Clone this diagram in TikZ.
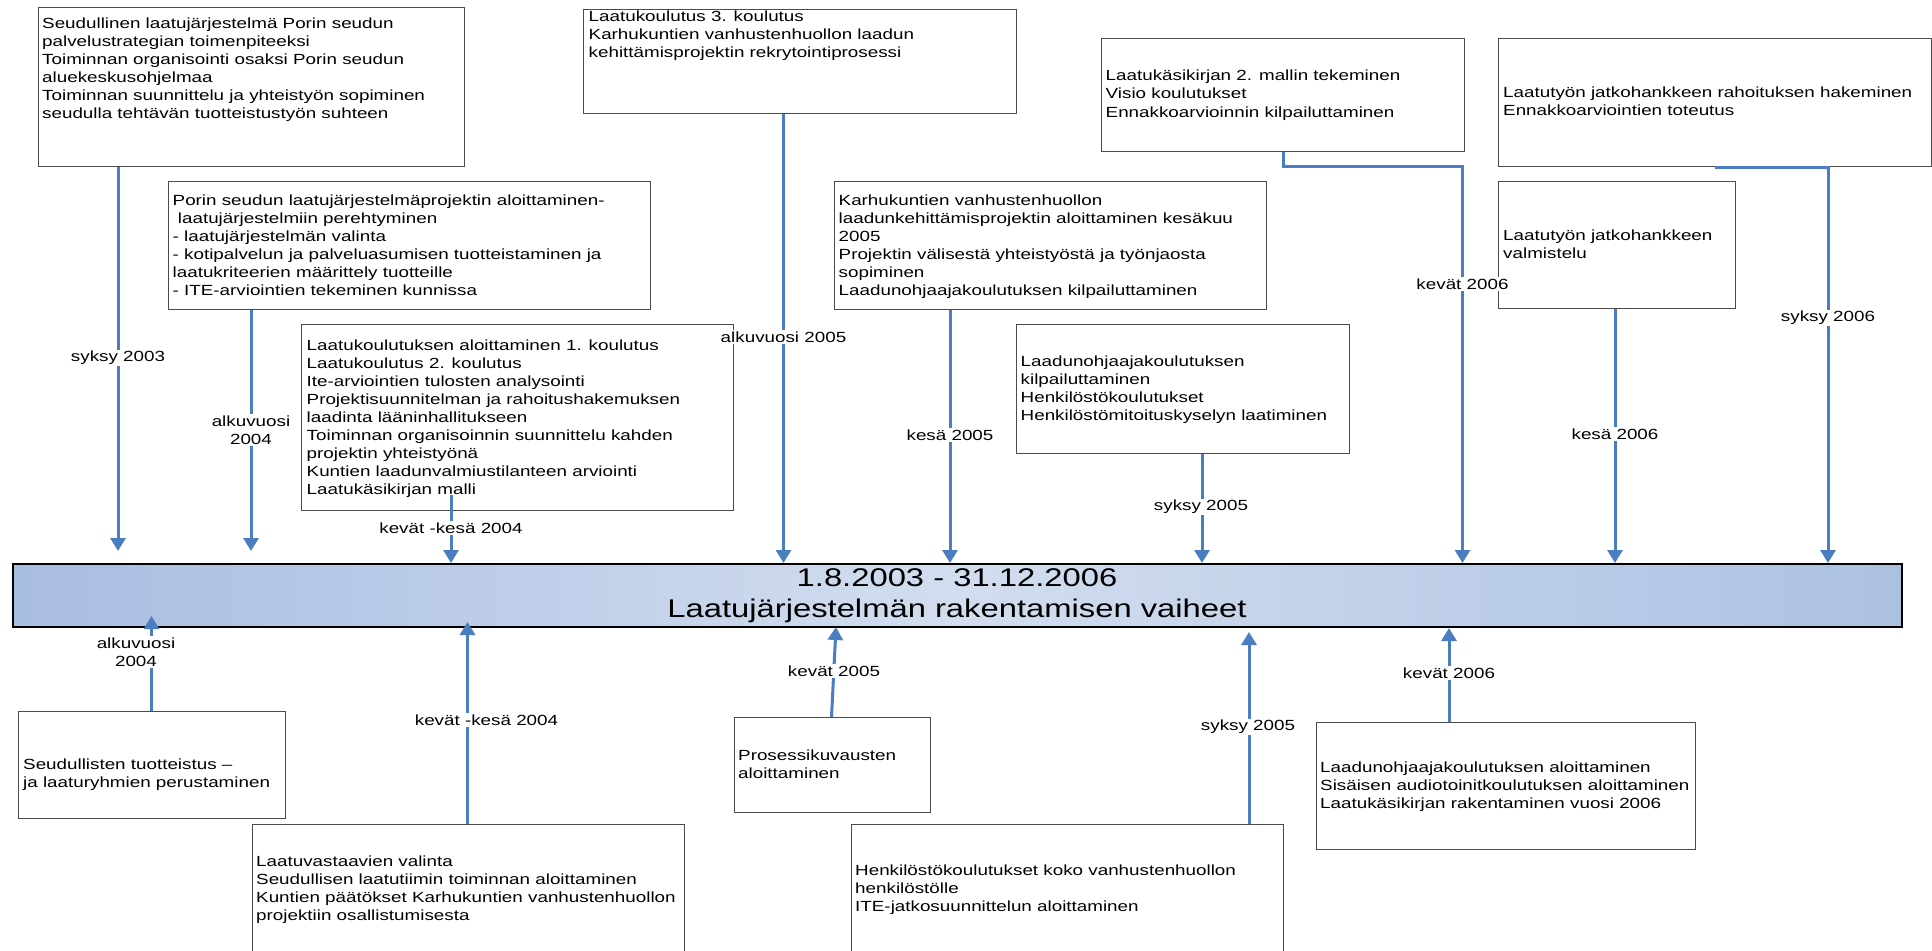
\documentclass[tikz,border=0pt]{standalone}
\usepackage{fontspec}
\setmainfont{Liberation Sans}[FakeStretch=1.28]
\usetikzlibrary{arrows.meta}

\definecolor{linkblue}{RGB}{74,126,193}
\definecolor{barleft}{RGB}{168,189,226}
\definecolor{barmid}{RGB}{210,221,239}
\definecolor{barright}{RGB}{172,193,226}
\definecolor{boxline}{RGB}{75,75,75}

\newcommand{\dgbody}{\fontsize{14.7}{18}\selectfont}
\newcommand{\dgtitle}{\fontsize{25.6}{31}\selectfont}
\newcommand{\boxlines}[1]{\begin{tabular}[t]{@{}l@{}}#1\end{tabular}}

\tikzset{
  phasebox/.style={draw=boxline, line width=1.3pt, fill=white, inner sep=0pt, anchor=north west},
  boxtext/.style={anchor=base west, inner sep=0pt, font=\dgbody},
  conn/.style={draw=linkblue, line width=3pt},
  arr/.style={conn, -{Triangle[length=13pt,width=15pt]}},
  when/.style={fill=white, inner sep=1.5pt, font=\dgbody, align=center},
}

\begin{document}
\begin{tikzpicture}[x=1pt, y=-1pt]
\useasboundingbox (0,0) rectangle (1932,950);
\clip (0,0) rectangle (1932,950);
\fill[white] (0,0) rectangle (1932,950);

% ---- timeline bar ----
\node[draw=black, line width=2pt, inner sep=0pt, anchor=north west,
      minimum width=1889pt, minimum height=63pt,
      left color=barleft, right color=barright, middle color=barmid] (bar) at (11.5,563) {};
\node[font=\dgtitle, align=center, inner sep=0pt] (title) at (bar.center)
  {1.8.2003 - 31.12.2006\\Laatujärjestelmän rakentamisen vaiheet};

% ---- boxes above the bar ----
\node[phasebox, minimum width=426pt, minimum height=159pt] (A) at (38,7) {};
\node[boxtext] (At) at (42,28.5) {\boxlines{Seudullinen laatujärjestelmä Porin seudun\\
  palvelustrategian toimenpiteeksi\\
  Toiminnan organisointi osaksi Porin seudun\\
  aluekeskusohjelmaa\\
  Toiminnan suunnittelu ja yhteistyön sopiminen\\
  seudulla tehtävän tuotteistustyön suhteen}};

\node[phasebox, minimum width=482pt, minimum height=128pt] (B) at (168,181) {};
\node[boxtext] (Bt) at (172.5,205) {\boxlines{Porin seudun laatujärjestelmäprojektin aloittaminen-\\
  \ laatujärjestelmiin perehtyminen\\
  - laatujärjestelmän valinta\\
  - kotipalvelun ja palveluasumisen tuotteistaminen ja\\
  laatukriteerien määrittely tuotteille\\
  - ITE-arviointien tekeminen kunnissa}};

\node[phasebox, minimum width=433pt, minimum height=104pt] (C) at (583,9) {};
\node[boxtext] (Ct) at (588.5,21.5) {\boxlines{Laatukoulutus 3. koulutus\\
  Karhukuntien vanhustenhuollon laadun\\
  kehittämisprojektin rekrytointiprosessi}};

\node[phasebox, minimum width=432pt, minimum height=128pt] (D) at (834,181) {};
\node[boxtext] (Dt) at (838.5,205) {\boxlines{Karhukuntien vanhustenhuollon\\
  laadunkehittämisprojektin aloittaminen kesäkuu\\
  2005\\
  Projektin välisestä yhteistyöstä ja työnjaosta\\
  sopiminen\\
  Laadunohjaajakoulutuksen kilpailuttaminen}};

\node[phasebox, minimum width=363pt, minimum height=113pt] (E) at (1101,38) {};
\node[boxtext] (Et) at (1105.5,81) {\boxlines{Laatukäsikirjan 2. mallin tekeminen\\
  Visio koulutukset\\
  Ennakkoarvioinnin kilpailuttaminen}};

\node[phasebox, minimum width=433pt, minimum height=128pt] (F) at (1498,38) {};
\node[boxtext] (Ft) at (1503,97) {\boxlines{Laatutyön jatkohankkeen rahoituksen hakeminen\\
  Ennakkoarviointien toteutus}};

\node[phasebox, minimum width=237pt, minimum height=127pt] (G) at (1498,181) {};
\node[boxtext] (Gt) at (1503,240) {\boxlines{Laatutyön jatkohankkeen\\
  valmistelu}};

\node[phasebox, minimum width=432pt, minimum height=186pt] (H) at (301,324) {};
\node[boxtext] (Ht) at (306.5,350) {\boxlines{Laatukoulutuksen aloittaminen 1. koulutus\\
  Laatukoulutus 2. koulutus\\
  Ite-arviointien tulosten analysointi\\
  Projektisuunnitelman ja rahoitushakemuksen\\
  laadinta lääninhallitukseen\\
  Toiminnan organisoinnin suunnittelu kahden\\
  projektin yhteistyönä\\
  Kuntien laadunvalmiustilanteen arviointi\\
  Laatukäsikirjan malli}};

\node[phasebox, minimum width=333pt, minimum height=129pt] (I) at (1016,324) {};
\node[boxtext] (It) at (1020.5,366) {\boxlines{Laadunohjaajakoulutuksen\\
  kilpailuttaminen\\
  Henkilöstökoulutukset\\
  Henkilöstömitoituskyselyn laatiminen}};

% ---- boxes below the bar ----
\node[phasebox, minimum width=267pt, minimum height=107pt] (K) at (18,711) {};
\node[boxtext] (Kt) at (23,769) {\boxlines{Seudullisten tuotteistus –\\
  ja laaturyhmien perustaminen}};

\node[phasebox, minimum width=432pt, minimum height=200pt] (L) at (251.5,824) {};
\node[boxtext] (Lt) at (256,866) {\boxlines{Laatuvastaavien valinta\\
  Seudullisen laatutiimin toiminnan aloittaminen\\
  Kuntien päätökset Karhukuntien vanhustenhuollon\\
  projektiin osallistumisesta}};

\node[phasebox, minimum width=196pt, minimum height=95pt] (M) at (733.5,717) {};
\node[boxtext] (Mt) at (738,760) {\boxlines{Prosessikuvausten\\
  aloittaminen}};

\node[phasebox, minimum width=432pt, minimum height=200pt] (N) at (850.5,824) {};
\node[boxtext] (Nt) at (855,875) {\boxlines{Henkilöstökoulutukset koko vanhustenhuollon\\
  henkilöstölle\\
  ITE-jatkosuunnittelun aloittaminen}};

\node[phasebox, minimum width=379pt, minimum height=127pt] (O) at (1316,722) {};
\node[boxtext] (Ot) at (1320,772) {\boxlines{Laadunohjaajakoulutuksen aloittaminen\\
  Sisäisen audiotoinitkoulutuksen aloittaminen\\
  Laatukäsikirjan rakentaminen vuosi 2006}};

% ---- connector end points ----
\coordinate (tA) at (118,551);
\coordinate (tB) at (251,551);
\coordinate (tC) at (783.5,0);
\coordinate (tD) at (950,0);
\coordinate (e1) at (1283,166);
\coordinate (e2) at (1462.5,166);
\coordinate (f1) at (1715,0);
\coordinate (f2) at (1828,0);
\coordinate (tG) at (1615,0);
\coordinate (tH) at (451,0);
\coordinate (tI) at (1202,0);
\coordinate (tK) at (151.5,616);
\coordinate (tL) at (467.5,622);
\coordinate (sM) at (831.5,0);
\coordinate (tM) at (836,627);
\coordinate (tN) at (1249,632);
\coordinate (tO) at (1449,0);

% ---- connectors into the bar from above ----
\draw[arr] (tA |- A.south) -- (tA);
\draw[arr] (tB |- B.south) -- (tB);
\draw[arr] (tC |- C.south) -- (tC |- bar.north);
\draw[arr] (tD |- D.south) -- (tD |- bar.north);
\draw[arr] (e1 |- E.south) -- (e1) -- (e2) -- (e2 |- bar.north);
\draw[arr] (f1 |- F.south) -- (f2 |- F.south) -- (f2 |- bar.north);
\draw[arr] (tG |- G.south) -- (tG |- bar.north);
\draw[arr] ([yshift=16pt]tH |- H.south) -- (tH |- bar.north);
\draw[arr] (tI |- I.south) -- (tI |- bar.north);

% ---- connectors into the bar from below ----
\draw[arr] (tK |- K.north) -- (tK);
\draw[arr] (tL |- L.north) -- (tL);
\draw[arr] (sM |- M.north) -- (tM);
\draw[arr] (tN |- N.north) -- (tN);
\draw[arr] (tO |- O.north) -- (tO |- bar.south);

% ---- time labels ----
\node[when] (wA) at (118,358) {syksy 2003};
\node[when] (wB) at (251,430) {alkuvuosi\\2004};
\node[when] (wC) at (783.5,337) {alkuvuosi 2005};
\node[when] (wD) at (950,435) {kesä 2005};
\node[when] (wE) at (1462.5,284) {kevät 2006};
\node[when] (wF) at (1828,318) {syksy 2006};
\node[when] (wG) at (1615,434) {kesä 2006};
\node[when] (wH) at (451,528) {kevät -kesä 2004};
\node[when] (wI) at (1201,507) {syksy 2005};
\node[when] (wK) at (136,652) {alkuvuosi\\2004};
\node[when] (wL) at (486.5,720) {kevät -kesä 2004};
\node[when] (wM) at (834,671) {kevät 2005};
\node[when] (wN) at (1248,727) {syksy 2005};
\node[when] (wO) at (1449,673) {kevät 2006};
\end{tikzpicture}
\end{document}
